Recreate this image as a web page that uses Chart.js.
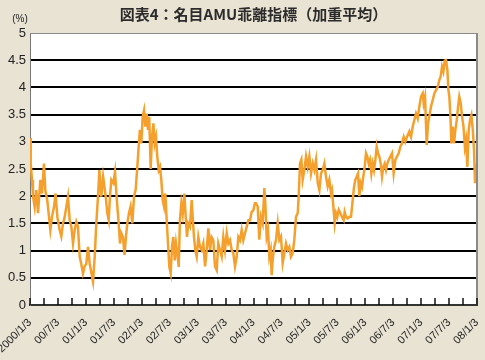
<!DOCTYPE html>
<html>
<head>
<meta charset="utf-8">
<script src="https://cdn.jsdelivr.net/npm/chart.js@4"></script>
<style>
  html, body { margin: 0; padding: 0; background: #E9E3D3; }
  #chart { display: block; }
</style>
</head>
<body>
<canvas id="chart" width="485" height="360"></canvas>
<script>
// タイトル・ラベル
const TITLE = "図表4：名目AMU乖離指標（加重平均）";
const UNIT_LABEL = "(%)";

// 横軸の目盛ラベル（半年ごと）
const tickLabels = [
  "2000/1/3", "00/7/3", "01/1/3", "01/7/3", "02/1/3", "02/7/3",
  "03/1/3", "03/7/3", "04/1/3", "04/7/3", "05/1/3", "05/7/3",
  "06/1/3", "06/7/3", "07/1/3", "07/7/3", "08/1/3"
];

// 縦軸の目盛
const yTicks = [0, 0.5, 1, 1.5, 2, 2.5, 3, 3.5, 4, 4.5, 5];

// 2000/1/3 からの経過月数
const months = [
  0, 0.15, 0.43, 0.64, 1.0, 1.36, 1.72, 2.22, 2.58, 3.0, 3.3, 3.7, 4.0, 4.37, 4.72,
  5.15, 5.5, 5.87, 6.37, 6.73, 7.09, 7.45, 7.8, 8.16, 8.52, 8.88, 9.24, 9.6, 9.95,
  10.3, 10.67, 11.0, 11.38, 11.74, 12.1, 12.46, 12.82, 13.2, 13.53, 13.9, 14.24,
  14.6, 14.9, 15.3, 15.7,
  16.25, 16.6, 16.9, 17.18, 17.47, 17.9, 18.26, 18.55, 18.76, 19.05, 19.33, 19.6,
  19.97, 20.3, 20.6, 20.9, 21.26, 21.6, 21.98, 22.34, 22.7, 23.05, 23.34, 23.6,
  23.9, 24.2, 24.5, 24.77, 25.06, 25.34, 25.6, 25.92, 26.2, 26.5, 26.78, 27.06,
  27.35, 27.64, 27.92, 28.2, 28.5, 28.78, 29.06, 29.36, 29.64, 29.92, 30.22, 30.5,
  30.78, 31.08, 31.36, 31.64, 31.94, 32.2,
  32.5, 32.8, 33.15, 33.44, 33.72, 34.0, 34.36, 34.72, 34.94, 35.22, 35.5, 35.8,
  36.15, 36.5, 36.87, 37.22, 37.6, 37.95, 38.3, 38.66, 39.0, 39.37, 39.73, 40.1,
  40.44, 40.8, 41.17, 41.52, 41.88, 42.25, 42.6, 42.95, 43.32, 43.67, 44.03, 44.4,
  44.74, 45.1, 45.46, 45.8, 46.18, 46.54, 46.9, 47.25, 47.6, 47.96, 48.3,
  48.54, 48.9, 49.25, 49.6, 49.97, 50.33, 50.54, 50.83, 51.12, 51.4, 51.7, 51.9,
  52.12, 52.47, 52.84, 53.2, 53.55, 53.9, 54.27, 54.63, 54.98, 55.34, 55.7, 56.06,
  56.4, 56.77, 57.13, 57.5, 57.7, 57.99, 58.28, 58.56, 58.92, 59.28, 59.64, 60.0,
  60.35, 60.72, 61.07, 61.43, 61.8, 62.15, 62.5, 62.86, 63.22, 63.57, 63.93, 64.28,
  64.65,
  64.86, 65.15, 65.44, 65.72, 66.0, 66.3, 66.65, 67.0, 67.37, 67.58, 67.87, 68.23,
  68.58, 68.94, 69.3, 69.59, 69.87, 70.16, 70.45, 70.73, 71.02, 71.3, 71.59, 71.88,
  72.16, 72.45, 72.74, 73.02, 73.31, 73.6, 73.88, 74.17, 74.46, 74.74, 75.03, 75.32,
  75.6, 75.89, 76.18, 76.46, 76.75, 77.04, 77.4, 77.75, 78.1, 78.47, 78.82, 79.18,
  79.54, 79.9, 80.26, 80.6, 80.97,
  81.47, 81.83, 82.2, 82.54, 82.9, 83.27, 83.62, 83.98, 84.34, 84.55, 84.84, 85.2,
  85.48, 85.76, 86.13, 86.5, 86.84, 87.2, 87.57, 87.92, 88.2, 88.49, 88.78, 89.07,
  89.35, 89.64, 89.86, 90.06, 90.3, 90.5, 90.8, 91.07, 91.35, 91.66, 91.94, 92.2,
  92.5, 92.8, 93.1, 93.4, 93.64, 93.93, 94.22, 94.5, 94.8, 95.1, 95.36, 95.58,
  95.8, 96
];

// 乖離指標（%）
const amuValues = [
  3.07, 2.6, 2.3, 2.0, 1.8, 2.11, 1.69, 2.3, 2.05, 2.6, 2.1, 1.93, 1.69, 1.38, 1.62,
  1.8, 2.05, 1.62, 1.38, 1.26, 1.5, 1.62, 1.8, 1.99, 1.56, 1.44, 1.13, 1.38, 1.53,
  1.44, 0.89, 0.76, 0.58, 0.71, 0.76, 1.07, 0.76, 0.58, 0.43, 0.89, 1.5,
  1.99, 2.48, 1.99, 2.36,
  2.0, 1.69, 1.56, 2.0, 2.3, 2.24, 2.45, 2.05, 1.81, 1.5, 1.13, 1.32,
  1.25, 0.92, 1.25, 1.5, 1.69, 1.81, 1.5, 2.0, 2.12, 2.54, 2.91, 3.22,
  2.97, 3.46, 3.58, 3.28, 3.52, 3.22, 3.46, 2.5, 3.09, 3.34, 2.97, 3.09,
  2.72, 2.48, 2.54, 2.3, 1.93, 1.81, 2.05, 1.56, 1.13, 0.7, 0.58, 1.07,
  1.25, 0.82, 1.13, 0.95, 0.7, 1.56,
  1.87, 1.68, 2.05, 1.62, 1.25, 1.5, 1.44, 1.93, 1.62, 1.25, 1.01, 0.89,
  1.25, 1.07, 1.01, 1.13, 0.71, 1.01, 1.41, 1.01, 1.25, 1.19, 0.71, 0.64,
  1.13, 1.01, 0.89, 1.25, 1.01, 1.32, 1.13, 1.19, 1.01, 0.95, 0.71, 0.89,
  1.25, 1.19, 1.38, 1.19, 1.32, 1.44, 1.56, 1.56, 1.71, 1.74, 1.87,
  1.87, 1.81, 1.2, 1.62, 1.5, 2.15, 1.87, 1.26, 1.38, 0.89, 1.01, 0.55,
  0.83, 1.07, 1.2, 1.5, 1.2, 1.26, 0.77, 0.95, 1.13, 1.01, 1.07, 0.89,
  0.95, 1.2, 1.62, 1.69, 1.99, 2.6, 2.67, 2.3, 2.48, 2.73, 2.54, 2.73,
  2.42, 2.6, 2.48, 2.67, 2.24, 2.11, 2.42, 2.48, 2.6, 2.36, 2.18, 2.3,
  2.05,
  2.11, 1.81, 1.5, 1.69, 1.62, 1.75, 1.69, 1.62, 1.56, 1.71, 1.62, 1.59,
  1.62, 1.62, 1.93, 2.17, 2.3, 2.36, 2.42, 2.0, 2.24, 2.17, 2.36, 2.54,
  2.79, 2.73, 2.6, 2.67, 2.42, 2.6, 2.48, 2.67, 2.91, 2.79, 2.73, 2.6,
  2.36, 2.54, 2.6, 2.48, 2.6, 2.67, 2.73, 2.79, 2.42, 2.67, 2.73, 2.79,
  2.91, 2.97, 3.09, 3.0, 3.09,
  3.19, 3.09, 3.28, 3.4, 3.52, 3.43, 3.65, 3.83, 3.89, 3.71, 3.83, 2.94,
  3.34, 3.46, 3.65, 3.77, 3.89, 3.95, 4.01, 4.14, 4.2, 4.38, 4.29, 4.49,
  4.5, 4.32, 3.95, 3.83, 3.46, 2.97, 3.28, 2.97, 3.22, 3.4, 3.65, 3.83,
  3.71, 3.46, 3.28, 2.91, 3.03, 2.54, 3.22, 3.4, 3.49, 3.22, 2.85, 2.24,
  2.42, 2.3
];

const BG_COLOR = "#E9E3D3";
const LINE_COLOR = "#F5A02C";

// 背景・枠・内向き目盛・タイトル
const decorPlugin = {
  id: "decor",
  beforeDraw(chart) {
    const { ctx, chartArea: a } = chart;
    ctx.save();
    ctx.fillStyle = BG_COLOR;
    ctx.fillRect(0, 0, chart.width, chart.height);
    ctx.fillStyle = "#fff";
    ctx.fillRect(a.left, a.top, a.right - a.left, a.bottom - a.top);
    ctx.restore();
  },
  afterDraw(chart) {
    const { ctx, chartArea: a } = chart;
    const xs = chart.scales.x;
    ctx.save();
    // 枠（上・右）
    ctx.strokeStyle = "#8a8a8a";
    ctx.lineWidth = 1;
    ctx.beginPath();
    ctx.moveTo(a.left, a.top + 0.5);
    ctx.lineTo(a.right, a.top + 0.5);
    ctx.stroke();
    ctx.lineWidth = 2;
    ctx.beginPath();
    ctx.moveTo(a.right, a.top);
    ctx.lineTo(a.right, a.bottom);
    ctx.stroke();
    // 内向きの目盛線
    ctx.strokeStyle = "#111";
    ctx.lineWidth = 1.5;
    xs.ticks.forEach((t) => {
      const px = Math.round(xs.getPixelForValue(t.value));
      ctx.beginPath();
      ctx.moveTo(px, a.bottom);
      ctx.lineTo(px, a.bottom - 7);
      ctx.stroke();
    });
    // タイトル
    ctx.fillStyle = "#2b2b2b";
    ctx.font = 'bold 15px "Noto Sans CJK JP"';
    ctx.textAlign = "center";
    ctx.textBaseline = "middle";
    ctx.fillText(TITLE, (a.left + a.right) / 2, 14);
    // 単位
    ctx.font = '10px "Liberation Sans"';
    ctx.fillStyle = "#222";
    ctx.fillText(UNIT_LABEL, 20, 19);
    ctx.restore();
  }
};

const points = months.map((m, i) => ({ x: m, y: amuValues[i] }));

new Chart(document.getElementById("chart"), {
  type: "line",
  data: {
    datasets: [{
      data: points,
      borderColor: LINE_COLOR,
      borderWidth: 2.5,
      pointRadius: 0,
      tension: 0,
      fill: false
    }]
  },
  options: {
    responsive: false,
    animation: false,
    layout: { padding: { top: 33, right: 8, left: 0, bottom: 0 } },
    plugins: {
      legend: { display: false },
      title: { display: false },
      tooltip: { enabled: false }
    },
    scales: {
      x: {
        type: "linear",
        min: 0,
        max: 96,
        grid: { display: false },
        border: { display: true, color: "#333", width: 2 },
        ticks: {
          stepSize: 3,
          autoSkip: false,
          minRotation: 45,
          maxRotation: 45,
          padding: 3,
          color: "#222",
          font: { family: '"Liberation Sans"', size: 11 },
          callback: (v) => (v % 6 === 0 ? tickLabels[v / 6] : "")
        },
        afterFit: (s) => {
          s.height = 55;
          s.paddingLeft = 0;
          s.paddingRight = 0;
        }
      },
      y: {
        min: yTicks[0],
        max: yTicks[yTicks.length - 1],
        afterBuildTicks: (s) => {
          s.ticks = yTicks.map((v) => ({ value: v }));
        },
        grid: {
          drawTicks: false,
          lineWidth: 2,
          color: (c) => (c.tick && (c.tick.value === 0 || c.tick.value === 5) ? "rgba(0,0,0,0)" : "#000")
        },
        border: { display: true, color: "#777", width: 1 },
        ticks: {
          padding: 4,
          color: "#222",
          font: { family: '"Liberation Sans"', size: 13 },
          callback: (v) => String(v)
        },
        afterFit: (s) => {
          s.width = 30;
        }
      }
    }
  },
  plugins: [decorPlugin]
});
</script>
</body>
</html>
